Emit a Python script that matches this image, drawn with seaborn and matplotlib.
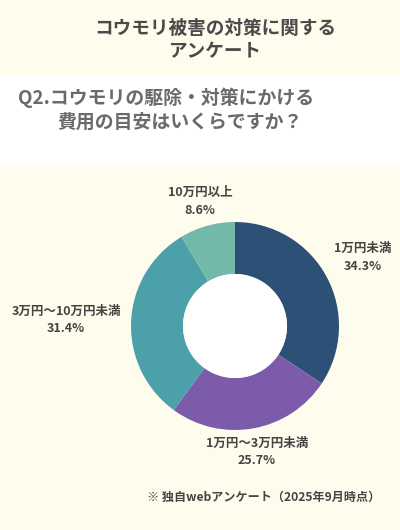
import matplotlib
matplotlib.use("Agg")
import matplotlib.pyplot as plt
import seaborn as sns
from matplotlib.patches import Rectangle

# Survey data
categories = ['1万円未満', '1万円～3万円未満', '3万円～10万円未満', '10万円以上']
shares = [34.3, 25.7, 31.4, 8.6]
colors = ['#2D5076', '#7D5BAB', '#4BA0A9', '#73B9A9']

title_lines = ['コウモリ被害の対策に関する', 'アンケート']
question_lines = ['Q2.コウモリの駆除・対策にかける', '費用の目安はいくらですか？']
footnote = '※ 独自webアンケート（2025年9月時点）'

sns.set_theme(style='white')
plt.rcParams['font.family'] = ['Noto Sans CJK JP', 'DejaVu Sans']

W, H = 400, 530
BG = '#FEFCEC'
fig = plt.figure(figsize=(W / 100, H / 100), dpi=100, facecolor=BG)


def fx(px):
    return px / W


def fy(py):
    return 1 - py / H


# white band behind the question
fig.patches.append(Rectangle((0, fy(165)), 1, fy(76) - fy(165), transform=fig.transFigure,
                             facecolor='white', edgecolor='none', zorder=0))

fig.text(fx(215), fy(28), title_lines[0], ha='center', va='center', fontsize=13.4,
         fontweight='bold', color='#4A4A4A')
fig.text(fx(215), fy(52), title_lines[1], ha='center', va='center', fontsize=13.4,
         fontweight='bold', color='#4A4A4A')
fig.text(fx(18), fy(98), question_lines[0], ha='left', va='center', fontsize=13.6,
         fontweight='bold', color='#6A6A6A')
fig.text(fx(57), fy(122), question_lines[1], ha='left', va='center', fontsize=13.6,
         fontweight='bold', color='#6A6A6A')

# donut
cx, cy, r = 235, 326, 104
ax = fig.add_axes([fx(cx - r), fy(cy + r), 2 * r / W, 2 * r / H])
ax.set_facecolor('none')
ax.pie(shares, colors=sns.color_palette(colors), startangle=90, counterclock=False,
       radius=1, wedgeprops=dict(width=0.5, edgecolor='none'))
ax.add_patch(plt.Circle((0, 0), 0.5, facecolor='white', edgecolor='none'))
ax.set_xlim(-1, 1)
ax.set_ylim(-1, 1)
ax.set_aspect('equal')
ax.axis('off')

label_pos = [(363, 248), (257, 443), (66, 311), (200, 192)]
for cat, val, (lx, ly) in zip(categories, shares, label_pos):
    fig.text(fx(lx), fy(ly), cat, ha='center', va='center', fontsize=9,
             fontweight='bold', color='#444444')
    fig.text(fx(lx), fy(ly + 18), f'{val}%', ha='center', va='center', fontsize=9,
             fontweight='bold', color='#444444')

fig.text(fx(264), fy(497), footnote, ha='center', va='center', fontsize=8.7,
         fontweight='bold', color='#444444')

fig.savefig('out.png', dpi=100, facecolor=BG)
